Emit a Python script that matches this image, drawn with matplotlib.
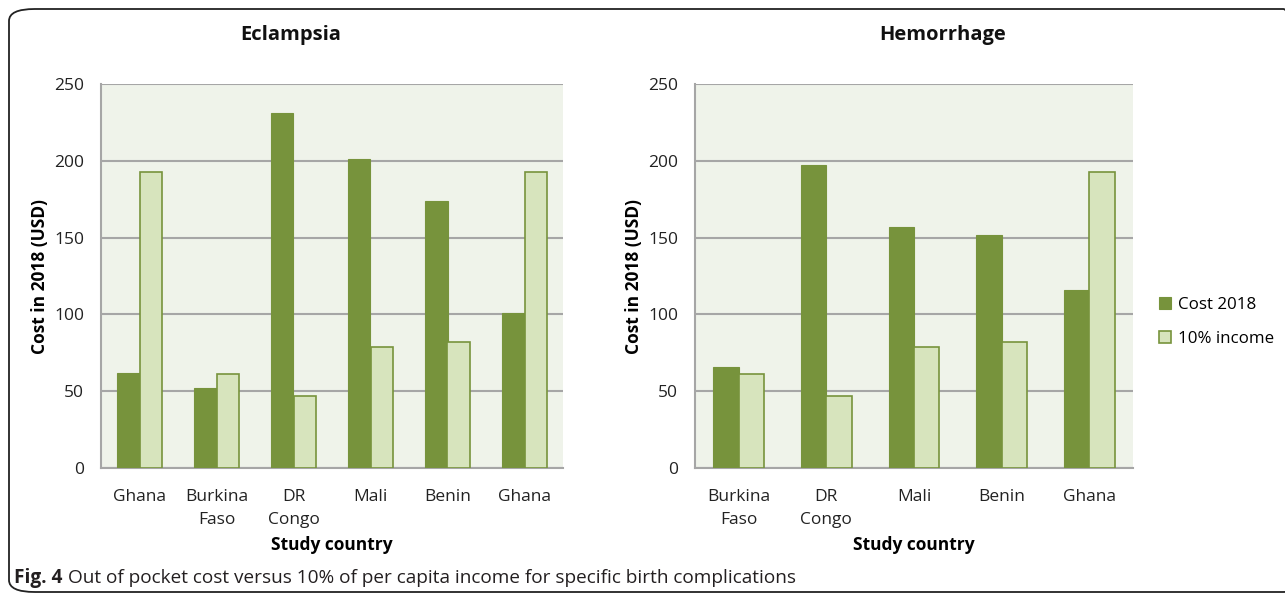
import matplotlib.pyplot as plt
import numpy as np
from matplotlib.patches import FancyBboxPatch

# data
eclampsia_countries = ["Ghana", "Burkina\nFaso", "DR\nCongo", "Mali", "Benin", "Ghana"]
eclampsia_cost = [62, 52, 231, 201, 174, 101]
eclampsia_income = [193, 61, 47, 79, 82, 193]

hemorrhage_countries = ["Burkina\nFaso", "DR\nCongo", "Mali", "Benin", "Ghana"]
hemorrhage_cost = [66, 197, 157, 152, 116]
hemorrhage_income = [61, 47, 79, 82, 193]

series_names = ["Cost 2018", "10% income"]
yticks = [0, 50, 100, 150, 200, 250]

DARK = "#77933C"
LIGHT = "#D7E4BD"
BG = "#EFF3EA"
GRID = "#A6A6A6"

plt.rcParams["font.family"] = ["Open Sans", "DejaVu Sans"]

W, H = 1285, 596
fig = plt.figure(figsize=(W / 100, H / 100), dpi=100)


def px(x0, y0, x1, y1):
    return [x0 / W, 1 - y1 / H, (x1 - x0) / W, (y1 - y0) / H]


def draw_panel(ax, countries, cost, income):
    x = np.arange(len(countries))
    w = 0.29
    ax.set_facecolor(BG)
    ax.bar(x - w / 2, cost, w, color=DARK, edgecolor=DARK, linewidth=0.8,
           label=series_names[0], zorder=3)
    ax.bar(x + w / 2, income, w, color=LIGHT, edgecolor=DARK, linewidth=1.2,
           label=series_names[1], zorder=3)
    ax.set_xlim(-0.5, len(countries) - 0.5)
    ax.set_ylim(0, 250)
    ax.set_yticks(yticks)
    ax.yaxis.grid(True, color=GRID, linewidth=1.5, zorder=1)
    ax.set_xticks(x)
    ax.set_xticklabels(countries, fontsize=12.5, color="#222222", linespacing=1.6)
    ax.tick_params(axis="y", labelsize=12.5, colors="#222222", length=0, pad=12)
    ax.tick_params(axis="x", length=0, pad=15)
    for s in ["top", "right"]:
        ax.spines[s].set_visible(False)
    for s in ["left", "bottom"]:
        ax.spines[s].set_color(GRID)
        ax.spines[s].set_linewidth(1.5)
    ax.set_ylabel("Cost in 2018 (USD)", fontsize=12.5, fontweight="bold", labelpad=4)
    ax.set_xlabel("Study country", fontsize=12.5, fontweight="bold", labelpad=6)


ax1 = fig.add_axes(px(101, 84, 563, 468))
draw_panel(ax1, eclampsia_countries, eclampsia_cost, eclampsia_income)

ax2 = fig.add_axes(px(695, 84, 1133, 468))
draw_panel(ax2, hemorrhage_countries, hemorrhage_cost, hemorrhage_income)

fig.text(291 / W, 1 - 35 / H, "Eclampsia", ha="center", va="center",
         fontsize=14.5, fontweight="bold", color="#111111")
fig.text(943 / W, 1 - 35 / H, "Hemorrhage", ha="center", va="center",
         fontsize=14.5, fontweight="bold", color="#111111")

fig.legend(*ax2.get_legend_handles_labels(), loc="center left",
           bbox_to_anchor=(1144 / W, 1 - 322 / H), frameon=False, fontsize=12.2,
           handlelength=0.7, handleheight=0.7, handletextpad=0.4, labelspacing=1.1)

# rounded border box
box = FancyBboxPatch((9 / W, 1 - 592 / H), 1300 / W, 583 / H,
                     boxstyle="round,pad=0,rounding_size=0.02",
                     transform=fig.transFigure, fill=False, edgecolor="#222222",
                     linewidth=1.3, clip_on=False)
fig.patches.append(box)

fig.text(14 / W, 1 - 578 / H, "Fig. 4", ha="left", va="center",
         fontsize=13.7, fontweight="bold", color="#231F20")
fig.text(68 / W, 1 - 578 / H,
         "Out of pocket cost versus 10% of per capita income for specific birth complications",
         ha="left", va="center", fontsize=13.7, color="#231F20")

fig.savefig("out.png", dpi=100, facecolor="white")
